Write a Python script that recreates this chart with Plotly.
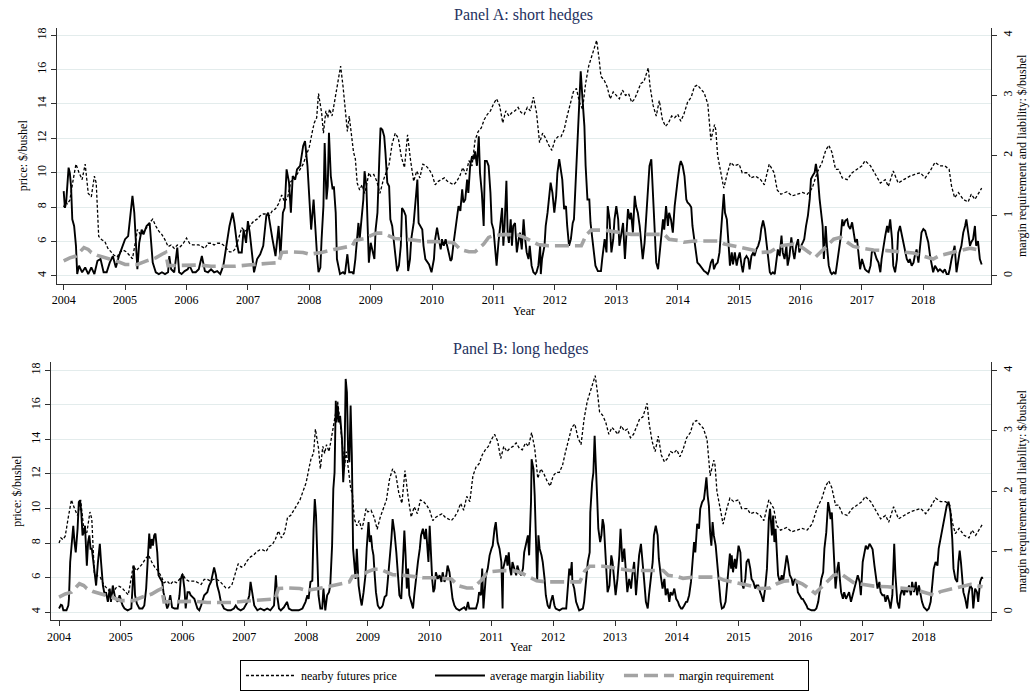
import plotly.graph_objects as go

# ---------------- data (decimal years) ----------------
YEARS = list(range(2004, 2019))

PRICE = [
(2004.00,8.0),(2004.03,8.3),(2004.06,8.2),(2004.10,8.4),(2004.15,9.5),(2004.20,10.5),(2004.25,10.0),
(2004.30,9.6),(2004.35,10.5),(2004.40,8.8),(2004.45,8.6),(2004.50,9.8),(2004.53,9.4),(2004.57,6.3),
(2004.62,6.1),(2004.67,6.0),(2004.72,5.6),(2004.77,5.4),(2004.82,5.2),(2004.87,5.1),(2004.92,5.4),
(2004.97,5.5),(2005.02,5.4),(2005.07,5.2),(2005.12,5.0),(2005.17,6.0),(2005.20,6.7),(2005.25,6.4),
(2005.30,6.6),(2005.35,6.8),(2005.40,7.1),(2005.45,7.3),(2005.50,6.9),(2005.55,6.6),(2005.60,6.4),
(2005.65,6.1),(2005.70,5.7),(2005.75,5.8),(2005.80,5.6),(2005.85,5.8),(2005.90,5.7),(2005.95,5.9),
(2006.00,6.2),(2006.05,5.9),(2006.10,5.8),(2006.15,5.8),(2006.20,5.8),(2006.25,5.7),(2006.30,5.6),
(2006.35,5.9),(2006.40,5.9),(2006.45,5.8),(2006.50,5.9),(2006.55,5.9),(2006.60,5.8),(2006.65,5.6),
(2006.70,5.4),(2006.75,5.4),(2006.80,5.6),(2006.85,6.2),(2006.90,6.8),(2006.95,6.6),(2007.00,6.7),
(2007.05,7.0),(2007.10,7.2),(2007.15,7.3),(2007.20,7.5),(2007.25,7.6),(2007.30,7.6),(2007.35,7.5),
(2007.40,7.8),(2007.45,7.9),(2007.50,8.2),(2007.55,8.7),(2007.60,8.3),(2007.65,8.6),(2007.70,9.5),
(2007.75,9.6),(2007.80,9.9),(2007.85,10.2),(2007.90,10.5),(2007.95,11.0),(2008.00,11.5),(2008.05,12.4),
(2008.08,12.9),(2008.12,13.2),(2008.15,14.6),(2008.20,13.5),(2008.23,12.3),(2008.27,13.6),(2008.30,13.2),
(2008.33,13.7),(2008.37,13.3),(2008.40,13.9),(2008.45,15.0),(2008.48,15.4),(2008.51,16.2),(2008.55,15.0),
(2008.58,14.0),(2008.62,12.4),(2008.65,13.3),(2008.68,12.5),(2008.72,11.2),(2008.75,10.8),(2008.78,9.4),
(2008.82,9.0),(2008.86,9.3),(2008.90,8.8),(2008.93,9.2),(2008.97,10.0),(2009.00,9.8),(2009.05,9.9),
(2009.10,9.5),(2009.15,8.8),(2009.20,9.5),(2009.25,10.0),(2009.30,10.5),(2009.35,11.7),(2009.40,12.3),
(2009.45,12.0),(2009.50,10.9),(2009.55,10.3),(2009.60,12.2),(2009.65,10.7),(2009.70,9.5),(2009.75,10.1),
(2009.80,9.7),(2009.85,10.5),(2009.90,10.4),(2009.95,10.2),(2010.00,9.9),(2010.05,9.3),(2010.10,9.5),
(2010.15,9.6),(2010.20,9.7),(2010.25,9.5),(2010.30,9.4),(2010.35,9.3),(2010.40,9.5),(2010.45,9.8),
(2010.50,10.3),(2010.55,9.9),(2010.60,10.7),(2010.65,10.4),(2010.70,11.9),(2010.75,12.4),(2010.80,12.6),
(2010.85,13.1),(2010.90,13.4),(2010.95,13.6),(2011.00,14.0),(2011.05,14.3),(2011.10,13.9),(2011.15,12.9),
(2011.20,13.6),(2011.25,13.3),(2011.30,13.5),(2011.35,13.6),(2011.40,13.8),(2011.45,13.5),(2011.50,13.4),
(2011.55,13.8),(2011.60,13.6),(2011.65,14.4),(2011.70,13.5),(2011.75,11.75),(2011.80,12.3),(2011.85,12.0),
(2011.90,11.6),(2011.95,11.3),(2012.00,11.9),(2012.05,12.1),(2012.10,12.1),(2012.15,12.5),(2012.20,13.3),
(2012.25,14.0),(2012.30,14.7),(2012.35,14.9),(2012.40,14.1),(2012.45,13.7),(2012.50,15.2),(2012.55,16.2),
(2012.60,16.8),(2012.65,17.4),(2012.68,17.7),(2012.72,16.6),(2012.75,15.6),(2012.80,15.4),(2012.85,15.0),
(2012.90,14.3),(2012.95,14.7),(2013.00,14.5),(2013.05,14.3),(2013.10,14.8),(2013.15,14.5),(2013.20,14.6),
(2013.25,14.1),(2013.30,14.3),(2013.35,14.7),(2013.40,15.2),(2013.45,15.3),(2013.50,15.8),(2013.52,16.1),
(2013.55,15.0),(2013.60,13.9),(2013.65,13.3),(2013.70,14.2),(2013.75,13.1),(2013.80,12.7),(2013.85,12.9),
(2013.90,13.3),(2013.95,13.2),(2014.00,13.4),(2014.05,13.0),(2014.10,13.4),(2014.16,14.1),(2014.22,14.4),
(2014.27,15.0),(2014.32,15.1),(2014.38,14.85),(2014.43,14.65),(2014.49,14.0),(2014.54,11.9),(2014.60,12.8),
(2014.62,12.5),(2014.65,11.0),(2014.70,10.0),(2014.75,9.1),(2014.81,10.0),(2014.86,10.6),(2014.92,10.4),
(2015.00,10.5),(2015.05,10.0),(2015.14,10.0),(2015.19,9.7),(2015.27,9.8),(2015.35,9.6),(2015.41,9.3),
(2015.49,10.5),(2015.57,10.0),(2015.62,9.0),(2015.68,8.75),(2015.78,8.9),(2015.86,8.65),(2015.95,8.75),
(2016.03,8.85),(2016.11,8.75),(2016.19,9.1),(2016.27,10.0),(2016.35,10.6),(2016.41,11.3),(2016.46,11.6),
(2016.51,11.2),(2016.57,10.2),(2016.62,10.2),(2016.68,9.7),(2016.76,9.6),(2016.84,10.0),(2016.92,10.2),
(2017.00,10.4),(2017.05,10.7),(2017.14,10.4),(2017.22,9.9),(2017.30,9.4),(2017.38,9.6),(2017.43,9.2),
(2017.51,10.1),(2017.59,9.4),(2017.68,9.6),(2017.78,9.8),(2017.86,9.9),(2017.95,10.0),(2018.03,9.7),
(2018.11,10.1),(2018.19,10.6),(2018.27,10.4),(2018.35,10.4),(2018.42,10.2),(2018.46,9.2),(2018.51,8.55),
(2018.57,8.85),(2018.65,8.45),(2018.73,8.3),(2018.78,8.75),(2018.84,8.45),(2018.89,8.75),(2018.95,9.1),
]

MARGIN_REQ = [
(2004.00,0.25),(2004.10,0.30),(2004.20,0.33),(2004.25,0.39),(2004.33,0.47),(2004.40,0.44),(2004.45,0.39),
(2004.55,0.34),(2004.70,0.30),(2004.85,0.25),(2005.00,0.19),(2005.20,0.19),(2005.35,0.25),(2005.50,0.30),
(2005.60,0.36),(2005.66,0.39),(2005.70,0.17),(2005.80,0.17),(2006.00,0.18),(2006.20,0.18),(2006.40,0.16),
(2006.60,0.155),(2006.80,0.16),(2007.00,0.18),(2007.20,0.19),(2007.35,0.21),(2007.50,0.22),(2007.55,0.39),
(2007.70,0.40),(2007.90,0.39),(2008.00,0.36),(2008.20,0.39),(2008.40,0.44),(2008.55,0.47),(2008.70,0.50),
(2008.75,0.59),(2008.90,0.62),(2009.00,0.67),(2009.10,0.71),(2009.20,0.71),(2009.30,0.67),(2009.40,0.62),
(2009.57,0.61),(2009.73,0.59),(2009.89,0.57),(2010.10,0.57),(2010.35,0.55),(2010.46,0.44),(2010.60,0.40),
(2010.70,0.40),(2010.84,0.53),(2010.92,0.64),(2011.00,0.67),(2011.19,0.69),(2011.40,0.68),(2011.50,0.64),
(2011.62,0.57),(2011.73,0.52),(2011.89,0.50),(2012.27,0.50),(2012.43,0.50),(2012.51,0.68),(2012.59,0.76),
(2012.81,0.76),(2013.03,0.72),(2013.24,0.69),(2013.78,0.69),(2013.86,0.61),(2014.00,0.59),(2014.10,0.56),
(2014.27,0.58),(2014.65,0.58),(2014.76,0.53),(2014.92,0.50),(2015.08,0.47),(2015.22,0.43),(2015.35,0.39),
(2015.51,0.40),(2015.62,0.47),(2015.73,0.51),(2015.89,0.53),(2016.03,0.47),(2016.14,0.39),(2016.24,0.31),
(2016.32,0.39),(2016.43,0.50),(2016.54,0.61),(2016.65,0.64),(2016.76,0.56),(2016.86,0.49),(2017.00,0.46),
(2017.19,0.43),(2017.41,0.42),(2017.62,0.40),(2017.84,0.38),(2018.00,0.33),(2018.16,0.28),(2018.27,0.34),
(2018.43,0.38),(2018.59,0.43),(2018.76,0.46),(2018.95,0.42),
]

LIAB_SHORT = [
(2004.00,1.41),(2004.02,1.13),(2004.04,1.22),(2004.06,1.49),(2004.08,1.80),(2004.10,1.71),(2004.12,1.49),
(2004.14,0.94),(2004.17,0.83),(2004.20,0.50),(2004.22,0.03),(2004.25,0.17),(2004.30,0.06),(2004.35,0.14),
(2004.40,0.03),(2004.45,0.14),(2004.50,0.03),(2004.55,0.25),(2004.60,0.28),(2004.65,0.06),(2004.70,0.06),
(2004.75,0.22),(2004.80,0.33),(2004.85,0.14),(2004.90,0.33),(2004.95,0.47),(2005.00,0.61),(2005.05,0.66),
(2005.10,1.13),(2005.12,1.33),(2005.15,1.05),(2005.18,0.50),(2005.20,0.11),(2005.23,0.55),(2005.27,0.77),
(2005.30,0.69),(2005.35,0.83),(2005.40,0.88),(2005.43,0.55),(2005.45,0.22),(2005.50,0.06),(2005.55,0.03),
(2005.60,0.06),(2005.65,0.03),(2005.70,0.06),(2005.72,0.33),(2005.75,0.11),(2005.80,0.06),(2005.85,0.47),
(2005.88,0.06),(2005.92,0.03),(2005.97,0.08),(2006.02,0.11),(2006.05,0.17),(2006.10,0.06),(2006.15,0.06),
(2006.20,0.11),(2006.25,0.33),(2006.30,0.08),(2006.35,0.06),(2006.40,0.11),(2006.45,0.06),(2006.50,0.08),
(2006.55,0.03),(2006.60,0.17),(2006.65,0.50),(2006.70,0.83),(2006.75,1.05),(2006.78,0.88),(2006.82,0.55),
(2006.85,0.39),(2006.90,0.39),(2006.93,0.77),(2006.97,0.55),(2007.00,0.91),(2007.03,0.72),(2007.07,0.28),
(2007.10,0.06),(2007.15,0.28),(2007.20,0.36),(2007.25,0.50),(2007.30,1.00),(2007.33,1.05),(2007.37,0.77),
(2007.40,0.61),(2007.45,0.33),(2007.50,0.83),(2007.53,0.33),(2007.57,1.05),(2007.60,1.13),(2007.63,1.77),
(2007.67,1.55),(2007.70,1.05),(2007.73,1.66),(2007.77,1.60),(2007.80,1.77),(2007.85,1.83),(2007.90,2.16),
(2007.93,2.24),(2007.97,1.83),(2008.00,1.38),(2008.03,0.77),(2008.07,1.27),(2008.10,0.72),(2008.13,0.28),
(2008.15,0.06),(2008.18,0.14),(2008.20,0.61),(2008.23,1.16),(2008.25,2.21),(2008.28,1.27),(2008.30,1.49),
(2008.32,2.38),(2008.35,1.66),(2008.38,1.44),(2008.40,1.49),(2008.43,1.05),(2008.45,0.28),(2008.50,0.03),
(2008.55,0.06),(2008.58,0.03),(2008.62,0.36),(2008.65,0.06),(2008.70,0.06),(2008.72,0.03),(2008.75,0.28),
(2008.80,0.88),(2008.82,0.61),(2008.85,0.94),(2008.88,1.27),(2008.90,1.74),(2008.93,1.49),(2008.95,0.83),
(2008.97,0.22),(2009.00,0.55),(2009.03,0.39),(2009.06,0.28),(2009.08,0.77),(2009.11,1.05),(2009.14,1.94),
(2009.16,2.46),(2009.19,2.43),(2009.22,2.32),(2009.24,2.05),(2009.27,1.55),(2009.30,1.49),(2009.32,0.94),
(2009.35,0.83),(2009.38,0.55),(2009.41,0.28),(2009.43,0.08),(2009.46,0.17),(2009.49,0.50),(2009.51,1.13),
(2009.54,1.08),(2009.57,1.00),(2009.59,0.55),(2009.61,0.08),(2009.64,0.28),(2009.66,0.61),(2009.70,0.88),
(2009.73,1.27),(2009.76,1.60),(2009.78,0.88),(2009.81,0.83),(2009.84,0.77),(2009.86,0.50),(2009.89,0.28),
(2009.95,0.19),(2009.99,0.06),(2010.03,0.28),(2010.05,0.61),(2010.08,0.80),(2010.11,0.61),(2010.14,0.44),
(2010.16,0.61),(2010.19,0.50),(2010.22,0.61),(2010.24,0.50),(2010.27,0.39),(2010.30,0.25),(2010.32,0.28),
(2010.35,0.55),(2010.38,0.77),(2010.41,1.00),(2010.43,1.16),(2010.46,1.08),(2010.49,1.44),(2010.51,1.22),
(2010.54,1.27),(2010.57,1.60),(2010.59,1.38),(2010.62,1.83),(2010.65,1.99),(2010.68,1.94),(2010.70,2.07),
(2010.73,1.83),(2010.76,2.32),(2010.78,1.71),(2010.81,1.38),(2010.84,0.83),(2010.86,1.91),(2010.89,1.91),
(2010.92,1.83),(2010.95,1.38),(2010.97,0.88),(2011.00,0.77),(2011.03,0.33),(2011.05,0.17),(2011.08,0.55),
(2011.11,0.88),(2011.14,1.13),(2011.16,0.50),(2011.18,0.83),(2011.21,1.58),(2011.23,0.72),(2011.25,0.55),
(2011.28,0.94),(2011.30,0.50),(2011.32,0.83),(2011.35,0.88),(2011.38,0.39),(2011.41,0.61),(2011.43,0.72),
(2011.46,0.44),(2011.49,0.94),(2011.51,0.66),(2011.54,0.39),(2011.57,0.28),(2011.59,0.50),(2011.62,0.17),
(2011.65,0.06),(2011.68,0.03),(2011.70,0.06),(2011.73,0.17),(2011.76,0.50),(2011.77,0.03),(2011.79,0.28),
(2011.83,0.50),(2011.85,0.83),(2011.88,1.05),(2011.90,1.27),(2011.93,1.55),(2011.96,1.38),(2011.99,1.05),
(2012.02,1.33),(2012.04,1.71),(2012.07,1.94),(2012.10,1.71),(2012.12,1.60),(2012.15,1.11),(2012.18,1.16),
(2012.20,0.83),(2012.23,0.50),(2012.26,0.61),(2012.29,0.88),(2012.31,0.94),(2012.34,1.66),(2012.37,2.32),
(2012.39,2.82),(2012.42,3.40),(2012.45,2.93),(2012.48,2.49),(2012.50,1.83),(2012.53,1.27),(2012.56,1.27),
(2012.58,0.88),(2012.61,0.61),(2012.64,0.28),(2012.66,0.17),(2012.70,0.08),(2012.75,0.08),(2012.77,0.28),
(2012.81,0.61),(2012.84,0.39),(2012.86,1.16),(2012.89,0.94),(2012.92,0.39),(2012.95,0.61),(2012.97,0.94),
(2013.00,1.16),(2013.03,0.94),(2013.05,0.50),(2013.08,0.72),(2013.11,0.88),(2013.14,0.28),(2013.16,0.61),
(2013.19,1.11),(2013.22,0.94),(2013.24,1.05),(2013.27,0.72),(2013.30,1.33),(2013.32,1.16),(2013.35,1.05),
(2013.38,0.83),(2013.41,0.50),(2013.43,0.28),(2013.46,0.55),(2013.49,1.05),(2013.51,1.49),(2013.54,1.83),
(2013.57,1.94),(2013.59,1.55),(2013.62,0.83),(2013.65,0.22),(2013.68,0.11),(2013.70,0.33),(2013.73,0.66),
(2013.76,0.94),(2013.78,0.77),(2013.81,1.16),(2013.84,0.83),(2013.86,1.05),(2013.89,0.94),(2013.92,0.72),
(2013.95,1.16),(2013.97,1.38),(2014.00,1.60),(2014.03,1.83),(2014.05,1.91),(2014.08,1.83),(2014.11,1.66),
(2014.14,1.27),(2014.16,1.22),(2014.19,1.19),(2014.22,1.14),(2014.24,0.83),(2014.27,0.58),(2014.30,0.39),
(2014.32,0.22),(2014.35,0.19),(2014.38,0.14),(2014.41,0.11),(2014.43,0.08),(2014.46,0.06),(2014.49,0.03),
(2014.51,0.08),(2014.54,0.22),(2014.57,0.28),(2014.59,0.11),(2014.62,0.19),(2014.65,0.22),(2014.68,0.39),
(2014.70,0.72),(2014.73,1.22),(2014.75,1.36),(2014.77,1.05),(2014.80,0.94),(2014.83,0.50),(2014.85,0.17),
(2014.88,0.39),(2014.90,0.19),(2014.93,0.39),(2014.96,0.17),(2014.98,0.28),(2015.01,0.39),(2015.04,0.17),
(2015.06,0.06),(2015.09,0.28),(2015.12,0.33),(2015.15,0.28),(2015.17,0.11),(2015.20,0.33),(2015.23,0.39),
(2015.25,0.33),(2015.28,0.44),(2015.31,0.50),(2015.34,0.61),(2015.36,0.78),(2015.39,0.92),(2015.42,0.78),
(2015.44,0.61),(2015.47,0.33),(2015.50,0.06),(2015.52,0.03),(2015.55,0.06),(2015.58,0.03),(2015.61,0.28),
(2015.63,0.44),(2015.66,0.33),(2015.69,0.67),(2015.71,0.39),(2015.74,0.28),(2015.77,0.50),(2015.79,0.17),
(2015.82,0.33),(2015.85,0.64),(2015.88,0.39),(2015.90,0.28),(2015.93,0.50),(2015.96,0.61),(2015.98,0.39),
(2016.01,0.50),(2016.04,0.56),(2016.06,0.61),(2016.09,0.83),(2016.12,1.00),(2016.15,1.28),(2016.17,1.61),
(2016.20,1.67),(2016.23,1.72),(2016.25,1.86),(2016.28,1.67),(2016.31,1.28),(2016.34,0.94),(2016.36,0.83),
(2016.38,0.28),(2016.41,0.83),(2016.43,0.50),(2016.46,0.17),(2016.49,0.06),(2016.51,0.03),(2016.54,0.06),
(2016.57,0.03),(2016.59,0.17),(2016.62,0.39),(2016.65,0.61),(2016.68,0.94),(2016.70,0.83),(2016.73,0.92),
(2016.76,0.94),(2016.78,0.83),(2016.81,0.78),(2016.84,0.89),(2016.86,0.72),(2016.89,0.56),(2016.92,0.61),
(2016.95,0.28),(2016.97,0.11),(2017.00,0.28),(2017.03,0.17),(2017.05,0.11),(2017.08,0.08),(2017.11,0.06),
(2017.14,0.17),(2017.16,0.39),(2017.19,0.44),(2017.22,0.33),(2017.24,0.28),(2017.27,0.22),(2017.30,0.06),
(2017.32,0.28),(2017.35,0.50),(2017.38,0.67),(2017.41,0.83),(2017.43,0.72),(2017.46,0.94),(2017.49,0.61),
(2017.51,0.17),(2017.54,0.06),(2017.57,0.28),(2017.59,0.72),(2017.62,0.83),(2017.65,0.67),(2017.68,0.56),
(2017.70,0.39),(2017.73,0.28),(2017.76,0.22),(2017.78,0.28),(2017.81,0.17),(2017.84,0.22),(2017.86,0.33),
(2017.89,0.44),(2017.92,0.22),(2017.95,0.61),(2017.97,0.72),(2018.00,0.78),(2018.03,0.75),(2018.05,0.67),
(2018.08,0.56),(2018.11,0.33),(2018.14,0.19),(2018.16,0.06),(2018.19,0.17),(2018.22,0.11),(2018.24,0.08),
(2018.27,0.11),(2018.30,0.08),(2018.32,0.06),(2018.35,0.11),(2018.38,0.03),(2018.41,0.03),(2018.43,0.11),
(2018.46,0.28),(2018.49,0.39),(2018.51,0.50),(2018.54,0.06),(2018.57,0.28),(2018.59,0.39),(2018.62,0.50),
(2018.65,0.72),(2018.68,0.83),(2018.70,0.94),(2018.73,0.72),(2018.76,0.50),(2018.78,0.56),(2018.81,0.61),
(2018.84,0.83),(2018.86,0.50),(2018.89,0.58),(2018.92,0.28),(2018.95,0.19),
]

LIAB_LONG = [
(2004.00,0.06),(2004.03,0.12),(2004.05,0.11),(2004.07,0.03),(2004.09,0.03),(2004.12,0.03),(2004.15,0.11),
(2004.16,0.22),(2004.18,0.83),(2004.21,1.27),(2004.23,1.43),(2004.25,1.16),(2004.27,0.99),(2004.30,1.38),
(2004.32,1.82),(2004.34,1.85),(2004.36,1.65),(2004.38,1.27),(2004.40,1.32),(2004.42,1.43),(2004.45,0.77),
(2004.47,1.16),(2004.49,1.27),(2004.51,1.05),(2004.53,1.05),(2004.55,0.88),(2004.58,0.66),(2004.60,0.44),
(2004.63,0.83),(2004.66,1.13),(2004.68,0.83),(2004.71,0.44),(2004.74,0.28),(2004.76,0.33),(2004.79,0.17),
(2004.82,0.39),(2004.84,0.17),(2004.87,0.44),(2004.90,0.28),(2004.92,0.22),(2004.95,0.17),(2004.98,0.28),
(2005.01,0.17),(2005.03,0.11),(2005.06,0.06),(2005.11,0.03),(2005.17,0.06),(2005.19,0.39),(2005.21,0.77),
(2005.23,0.28),(2005.26,0.14),(2005.30,0.06),(2005.35,0.06),(2005.38,0.11),(2005.41,0.39),(2005.44,0.94),
(2005.46,1.30),(2005.48,1.05),(2005.50,1.21),(2005.52,1.10),(2005.54,1.27),(2005.56,1.30),(2005.59,0.99),
(2005.61,0.61),(2005.64,0.55),(2005.67,0.50),(2005.69,0.33),(2005.72,0.17),(2005.75,0.06),(2005.77,0.11),
(2005.80,0.28),(2005.83,0.08),(2005.87,0.06),(2005.92,0.06),(2005.95,0.28),(2005.97,0.55),(2006.00,0.63),
(2006.03,0.39),(2006.05,0.06),(2006.08,0.33),(2006.11,0.33),(2006.13,0.28),(2006.19,0.22),(2006.24,0.06),
(2006.27,0.03),(2006.30,0.11),(2006.35,0.28),(2006.40,0.33),(2006.43,0.44),(2006.46,0.50),(2006.48,0.61),
(2006.51,0.74),(2006.54,0.61),(2006.56,0.44),(2006.59,0.33),(2006.62,0.17),(2006.67,0.06),(2006.73,0.03),
(2006.78,0.03),(2006.83,0.06),(2006.86,0.11),(2006.89,0.06),(2006.94,0.03),(2006.99,0.06),(2007.05,0.17),
(2007.08,0.28),(2007.10,0.50),(2007.13,0.28),(2007.16,0.11),(2007.21,0.03),(2007.26,0.06),(2007.32,0.03),
(2007.37,0.06),(2007.42,0.03),(2007.48,0.11),(2007.51,0.61),(2007.53,0.28),(2007.56,0.06),(2007.59,0.03),
(2007.64,0.08),(2007.69,0.17),(2007.72,0.06),(2007.77,0.03),(2007.83,0.03),(2007.88,0.03),(2007.94,0.06),
(2007.99,0.17),(2008.02,0.28),(2008.04,0.22),(2008.07,0.50),(2008.10,0.52),(2008.12,1.38),(2008.14,1.87),
(2008.16,1.60),(2008.18,0.83),(2008.20,0.28),(2008.23,0.06),(2008.26,0.06),(2008.28,0.39),(2008.31,0.03),
(2008.34,0.28),(2008.37,0.33),(2008.39,0.44),(2008.42,1.10),(2008.44,2.04),(2008.46,2.31),(2008.48,3.50),
(2008.49,3.14),(2008.51,3.42),(2008.53,3.14),(2008.55,3.25),(2008.58,2.87),(2008.60,2.15),(2008.62,2.48),
(2008.64,3.86),(2008.66,3.64),(2008.68,2.64),(2008.70,2.48),(2008.72,3.42),(2008.74,2.59),(2008.76,1.05),
(2008.78,0.72),(2008.80,0.55),(2008.82,1.05),(2008.85,0.44),(2008.88,0.22),(2008.90,0.11),(2008.93,0.33),
(2008.96,0.61),(2008.98,1.05),(2009.01,1.49),(2009.03,1.16),(2009.05,1.27),(2009.07,1.05),(2009.09,0.94),
(2009.11,0.61),(2009.13,0.33),(2009.16,0.11),(2009.19,0.06),(2009.22,0.08),(2009.24,0.11),(2009.27,0.25),
(2009.30,0.28),(2009.32,0.50),(2009.35,0.83),(2009.38,1.21),(2009.40,1.54),(2009.43,1.32),(2009.46,0.99),
(2009.48,0.66),(2009.51,0.28),(2009.54,0.22),(2009.57,0.99),(2009.59,1.35),(2009.61,0.94),(2009.63,0.39),
(2009.65,0.72),(2009.67,0.28),(2009.70,0.17),(2009.73,0.06),(2009.75,0.28),(2009.78,0.61),(2009.81,0.83),
(2009.84,1.05),(2009.86,1.27),(2009.89,1.38),(2009.92,1.21),(2009.94,1.38),(2009.96,1.05),(2009.98,0.83),
(2010.00,1.43),(2010.02,0.83),(2010.04,0.55),(2010.06,0.33),(2010.08,0.39),(2010.10,0.66),(2010.13,0.55),
(2010.16,0.61),(2010.19,0.50),(2010.21,0.66),(2010.24,0.50),(2010.27,0.61),(2010.29,0.77),(2010.32,0.66),
(2010.35,0.39),(2010.37,0.22),(2010.40,0.11),(2010.43,0.06),(2010.48,0.03),(2010.54,0.06),(2010.56,0.08),
(2010.59,0.03),(2010.62,0.17),(2010.64,0.06),(2010.70,0.06),(2010.75,0.06),(2010.78,0.17),(2010.80,0.33),
(2010.83,0.28),(2010.85,0.72),(2010.87,0.06),(2010.89,0.39),(2010.91,0.61),(2010.94,0.72),(2010.97,0.94),
(2011.00,1.05),(2011.02,1.10),(2011.05,1.38),(2011.07,1.49),(2011.10,1.16),(2011.13,1.05),(2011.16,0.83),
(2011.18,0.06),(2011.19,0.72),(2011.21,0.83),(2011.24,0.94),(2011.26,0.77),(2011.28,0.99),(2011.30,0.72),
(2011.32,0.61),(2011.34,0.83),(2011.37,0.72),(2011.40,0.61),(2011.42,0.77),(2011.45,0.66),(2011.48,0.61),
(2011.51,0.72),(2011.53,0.99),(2011.56,1.16),(2011.59,1.27),(2011.61,0.94),(2011.64,1.82),(2011.65,2.53),
(2011.68,2.37),(2011.70,1.93),(2011.72,1.21),(2011.74,0.50),(2011.76,1.27),(2011.78,1.05),(2011.81,0.94),
(2011.83,0.83),(2011.86,0.55),(2011.88,0.28),(2011.91,0.11),(2011.94,0.06),(2011.96,0.17),(2011.99,0.28),
(2012.02,0.11),(2012.04,0.06),(2012.10,0.03),(2012.15,0.06),(2012.21,0.06),(2012.23,0.28),(2012.26,0.72),
(2012.28,0.61),(2012.30,0.83),(2012.31,0.50),(2012.34,0.39),(2012.37,0.17),(2012.42,0.03),(2012.48,0.06),
(2012.50,0.17),(2012.53,0.50),(2012.56,0.83),(2012.59,0.99),(2012.60,1.65),(2012.63,2.15),(2012.65,2.31),
(2012.67,2.92),(2012.69,2.26),(2012.71,1.93),(2012.73,1.38),(2012.76,1.16),(2012.78,1.27),(2012.80,1.54),
(2012.82,1.43),(2012.84,1.05),(2012.86,0.61),(2012.88,0.33),(2012.91,0.44),(2012.94,0.94),(2012.96,0.83),
(2012.99,0.55),(2013.01,0.28),(2013.04,0.55),(2013.07,0.94),(2013.09,1.38),(2013.12,0.83),(2013.15,1.05),
(2013.18,0.61),(2013.20,0.33),(2013.23,0.55),(2013.26,0.39),(2013.28,0.61),(2013.31,0.83),(2013.34,0.28),
(2013.36,0.55),(2013.39,0.94),(2013.42,1.13),(2013.44,0.94),(2013.47,0.55),(2013.50,0.17),(2013.53,0.06),
(2013.55,0.28),(2013.58,0.55),(2013.61,0.83),(2013.63,1.27),(2013.66,1.43),(2013.69,1.27),(2013.71,0.88),
(2013.74,0.61),(2013.77,0.39),(2013.80,0.55),(2013.82,0.28),(2013.85,0.39),(2013.88,0.17),(2013.90,0.33),
(2013.93,0.28),(2013.96,0.39),(2013.99,0.22),(2014.02,0.17),(2014.04,0.11),(2014.07,0.06),(2014.09,0.06),
(2014.12,0.11),(2014.15,0.17),(2014.17,0.17),(2014.20,0.28),(2014.23,0.50),(2014.25,0.83),(2014.28,1.16),
(2014.30,0.99),(2014.33,1.46),(2014.36,1.38),(2014.38,1.71),(2014.41,1.82),(2014.44,1.87),(2014.46,2.04),
(2014.48,2.23),(2014.50,1.93),(2014.52,1.76),(2014.54,1.32),(2014.56,1.10),(2014.58,1.49),(2014.60,1.27),
(2014.63,1.10),(2014.65,0.83),(2014.68,0.50),(2014.71,0.17),(2014.73,0.06),(2014.76,0.08),(2014.79,0.17),
(2014.81,0.39),(2014.84,0.83),(2014.86,0.97),(2014.88,0.72),(2014.89,0.94),(2014.91,0.66),(2014.94,0.88),
(2014.96,0.72),(2014.98,0.94),(2015.00,1.10),(2015.03,0.99),(2015.05,0.50),(2015.08,0.39),(2015.11,0.55),
(2015.13,0.83),(2015.16,0.88),(2015.19,0.72),(2015.21,0.55),(2015.24,0.50),(2015.27,0.39),(2015.29,0.44),
(2015.32,0.44),(2015.35,0.33),(2015.37,0.28),(2015.40,0.17),(2015.43,0.39),(2015.46,0.72),(2015.47,1.16),
(2015.49,1.54),(2015.51,1.71),(2015.54,1.27),(2015.56,1.60),(2015.58,1.16),(2015.60,1.38),(2015.62,0.83),
(2015.64,0.61),(2015.67,0.50),(2015.70,0.61),(2015.72,0.50),(2015.75,0.72),(2015.78,0.94),(2015.80,0.83),
(2015.83,0.61),(2015.86,0.55),(2015.88,0.44),(2015.91,0.55),(2015.94,0.50),(2015.96,0.33),(2015.99,0.28),
(2016.02,0.22),(2016.04,0.22),(2016.07,0.17),(2016.10,0.11),(2016.12,0.06),(2016.18,0.03),(2016.23,0.03),
(2016.26,0.06),(2016.29,0.17),(2016.31,0.33),(2016.34,0.55),(2016.37,0.66),(2016.39,1.05),(2016.42,1.32),
(2016.44,1.76),(2016.45,1.82),(2016.47,1.71),(2016.49,1.54),(2016.51,1.65),(2016.53,1.27),(2016.55,0.83),
(2016.57,0.39),(2016.60,0.72),(2016.62,0.83),(2016.64,0.55),(2016.66,0.33),(2016.69,0.22),(2016.71,0.33),
(2016.74,0.22),(2016.77,0.28),(2016.79,0.33),(2016.82,0.17),(2016.85,0.28),(2016.87,0.39),(2016.90,0.50),
(2016.93,0.61),(2016.96,0.50),(2016.98,0.28),(2017.01,0.83),(2017.04,1.04),(2017.06,1.10),(2017.09,1.04),
(2017.12,1.13),(2017.14,1.10),(2017.17,1.04),(2017.20,0.77),(2017.22,0.61),(2017.25,0.39),(2017.28,0.50),
(2017.30,0.33),(2017.33,0.28),(2017.36,0.28),(2017.38,0.17),(2017.41,0.28),(2017.44,0.17),(2017.46,0.06),
(2017.49,0.28),(2017.52,1.13),(2017.54,0.61),(2017.57,0.17),(2017.60,0.06),(2017.62,0.28),(2017.65,0.39),
(2017.68,0.28),(2017.70,0.39),(2017.73,0.33),(2017.76,0.44),(2017.79,0.28),(2017.81,0.50),(2017.84,0.33),
(2017.87,0.50),(2017.89,0.28),(2017.92,0.44),(2017.95,0.28),(2017.97,0.17),(2018.00,0.08),(2018.05,0.03),
(2018.08,0.06),(2018.11,0.17),(2018.13,0.39),(2018.16,0.72),(2018.19,0.83),(2018.22,0.77),(2018.24,1.05),
(2018.27,1.21),(2018.30,1.43),(2018.32,1.49),(2018.35,1.65),(2018.37,1.76),(2018.40,1.83),(2018.43,1.65),
(2018.46,1.21),(2018.48,0.72),(2018.51,0.55),(2018.54,0.50),(2018.56,0.83),(2018.58,1.02),(2018.60,0.83),
(2018.62,0.61),(2018.64,0.33),(2018.67,0.22),(2018.70,0.06),(2018.72,0.28),(2018.75,0.44),(2018.78,0.39),
(2018.80,0.06),(2018.83,0.39),(2018.86,0.33),(2018.88,0.17),(2018.91,0.50),(2018.94,0.58),(2018.95,0.55),
]

LEFT_TICKS = [4, 6, 8, 10, 12, 14, 16, 18]
RIGHT_TICKS = [0, 1, 2, 3, 4]
TITLES = ["Panel A: short hedges", "Panel B: long hedges"]
NAMES = ["nearby futures price", "average margin liability", "margin requirement"]

# ---------------- styling ----------------
W, H = 1031, 691
FONT = "Liberation Serif"
AX = "#303030"
GRID = "#e3ecec"
NAVY = "#24315e"


def xs(pairs):
    return [p[0] for p in pairs]


def ys(pairs):
    return [p[1] for p in pairs]


fig = go.Figure()

panels = [
    (LIAB_SHORT, "x", "y", "y2", (52, 991), 27, 283, (2003.887, 2019.105), (3.553, 18.42), (-0.128, 4.121)),
    (LIAB_LONG, "x2", "y3", "y4", (46, 991), 362, 620, (2003.866, 2019.09), (3.537, 18.46), (-0.132, 4.132)),
]

for i, (liab, xa, yl, yr, (px0, px1), ptop, pbot, xr, ylr, yrr) in enumerate(panels):
    show = i == 0
    fig.add_trace(go.Scatter(x=xs(PRICE), y=ys(PRICE), mode="lines", name=NAMES[0],
                             line=dict(color="black", width=1.3, dash="3px,2px"),
                             xaxis=xa, yaxis=yl, showlegend=show, legendrank=1))
    fig.add_trace(go.Scatter(x=xs(liab), y=ys(liab), mode="lines", name=NAMES[1],
                             line=dict(color="black", width=1.9),
                             xaxis=xa, yaxis=yr, showlegend=show, legendrank=2))
    fig.add_trace(go.Scatter(x=xs(MARGIN_REQ), y=ys(MARGIN_REQ), mode="lines", name=NAMES[2],
                             line=dict(color="#a3a3a3", width=3.6, dash="14px,6px"),
                             xaxis=xa, yaxis=yr, showlegend=show, legendrank=3))

    xdom = [px0 / W, px1 / W]
    ydom = [(H - pbot) / H, (H - ptop) / H]
    xkey = "xaxis" if xa == "x" else "xaxis2"
    ylkey = "yaxis" if yl == "y" else "yaxis3"
    yrkey = "yaxis2" if yr == "y2" else "yaxis4"

    fig.layout[xkey] = dict(
        domain=xdom, anchor=yl, range=list(xr), tickvals=YEARS, ticktext=[str(y) for y in YEARS],
        showline=True, linecolor=AX, linewidth=1, ticks="outside", ticklen=5, tickcolor=AX,
        showgrid=False, zeroline=False, tickfont=dict(family=FONT, size=12, color="black"),
        title=dict(text="Year", font=dict(family=FONT, size=12, color="black"), standoff=0),
    )
    fig.layout[ylkey] = dict(
        domain=ydom, anchor=xa, range=list(ylr), tickvals=LEFT_TICKS, tickangle=-90,
        showline=True, linecolor=AX, linewidth=1, ticks="outside", ticklen=5, tickcolor=AX,
        showgrid=True, gridcolor=GRID, gridwidth=1, zeroline=False,
        tickfont=dict(family=FONT, size=12, color="black"),
        title=dict(text="price: $/bushel", font=dict(family=FONT, size=12, color="black"), standoff=4),
    )
    fig.layout[yrkey] = dict(
        domain=ydom, anchor=xa, overlaying=yl, side="right", range=list(yrr), tickvals=RIGHT_TICKS,
        tickangle=-90, showline=True, linecolor=AX, linewidth=1, ticks="outside", ticklen=5, tickcolor=AX,
        showgrid=False, zeroline=False, tickfont=dict(family=FONT, size=12, color="black"),
        title=dict(text="margin requirement and liability: $/bushel",
                   font=dict(family=FONT, size=12, color="black"), standoff=4),
    )
    fig.add_annotation(text=TITLES[i], xref="paper", yref="paper",
                       x=(px0 + px1) / 2 / W, y=(H - (ptop - 13)) / H, xanchor="center", yanchor="middle",
                       showarrow=False, font=dict(family=FONT, size=16, color=NAVY))

fig.update_layout(
    width=W, height=H, margin=dict(l=0, r=0, t=0, b=0),
    paper_bgcolor="white", plot_bgcolor="white",
    font=dict(family=FONT, size=12, color="black"),
    showlegend=True,
    legend=dict(orientation="h", x=522 / W, xanchor="center", y=(H - 660) / H, yanchor="top",
                bordercolor="black", borderwidth=1, bgcolor="white",
                font=dict(family=FONT, size=12, color="black"), itemwidth=50,
                entrywidth=124, tracegroupgap=0),
)

fig.write_html("out.html")
